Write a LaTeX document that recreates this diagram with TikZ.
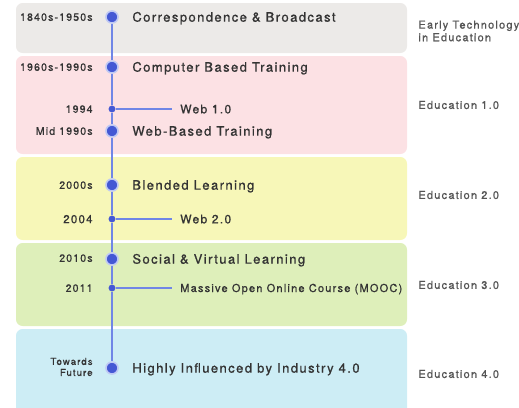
\documentclass[tikz,border=0pt]{standalone}
\usepackage{fontspec}
\setmainfont{TeX Gyre Heros}[LetterSpace=11, FakeBold=0.9]
\usetikzlibrary{positioning}
\usepackage{xcolor}

\definecolor{bandgray}{HTML}{ECEAE8}
\definecolor{bandpink}{HTML}{FCE1E4}
\definecolor{bandyellow}{HTML}{F7F7B8}
\definecolor{bandgreen}{HTML}{DEEFBA}
\definecolor{bandblue}{HTML}{CDEDF5}
\definecolor{spineblue}{HTML}{7086E6}
\definecolor{dotblue}{HTML}{4458D4}
\definecolor{txt}{HTML}{333333}
\definecolor{eratxt}{HTML}{555555}

\begin{document}
\begin{tikzpicture}[
                x=0.75pt, y=-0.75pt,
                every node/.style={text=txt, inner sep=2pt},
                band/.style={rounded corners=5pt},
                bigdot/.style={circle, fill=dotblue, draw=spineblue!45, line width=1.2pt,
                    minimum size=9pt, inner sep=0pt},
                smalldot/.style={circle, fill=dotblue, minimum size=5.2pt, inner sep=0pt},
                spine/.style={draw=spineblue, line width=1.3pt},
                event/.style={font=\fontsize{9.75}{11}\selectfont, text height=7pt, text depth=0pt},
                web/.style={anchor=west, inner xsep=6pt, font=\fontsize{9}{10}\selectfont,
                    text height=6.5pt, text depth=0pt},
                date/.style={anchor=east, font=\fontsize{7.9}{9}\selectfont,
                    text height=5.7pt, text depth=0pt},
                era/.style={anchor=west, font=\fontsize{8.25}{9.5}\selectfont, text=eratxt,
                    align=left},
            ]
            \useasboundingbox (0,0) rectangle (519,408);

            % Bands
            \fill[band, bandgray] (16,3) rectangle (407,53);
            \fill[band, bandpink] (16,56) rectangle (407,154);
            \fill[band, bandyellow] (16,157) rectangle (407,240);
            \fill[band, bandgreen] (16,243) rectangle (407,326);
            \fill[band, bandblue] (16,329) rectangle (407,420);

            % Timeline dots
            \node[bigdot] (d1) at (112,17) {};
            \node[bigdot] (d2) at (112,67) {};
            \node[smalldot] (w1) at (112,109) {};
            \node[bigdot] (d3) at (112,131) {};
            \node[bigdot] (d4) at (112,185) {};
            \node[smalldot] (w2) at (112,219) {};
            \node[bigdot] (d5) at (112,259) {};
            \node[smalldot] (w3) at (112,288) {};
            \node[bigdot] (d6) at (112,368) {};

            % Spine
            \foreach \a/\b in {d1/d2, d2/w1, w1/d3, d3/d4, d4/w2, w2/d5, d5/w3, w3/d6}
                \draw[spine] (\a) -- (\b);

            % Events
            \node[event, right=8pt of d1] (corr) {Correspondence \& Broadcast};
            \node[event, right=8pt of d2] (cbt) {Computer Based Training};
            \node[event, right=8pt of d3] (wbt) {Web-Based Training};
            \node[event, right=8pt of d4] (blend) {Blended Learning};
            \node[event, right=8pt of d5] (social) {Social \& Virtual Learning};
            \node[event, right=8pt of d6] (ind) {Highly Influenced by Industry 4.0};

            % Web milestones
            \node[web] (web1) at (172,109) {Web 1.0};
            \node[web] (web2) at (172,219) {Web 2.0};
            \node[web, font=\fontsize{8.25}{9.5}\selectfont, text height=6pt] (mooc) at (172,288)
                {Massive Open Online Course (MOOC)};
            \draw[spine] (w1) -- (web1);
            \draw[spine] (w2) -- (web2);
            \draw[spine] (w3) -- (mooc);

            % Dates
            \node[date] (t1) at (95.5,17) {1840s-1950s};
            \node[date] (t2) at (95.5,67) {1960s-1990s};
            \node[date] (t3) at (95.5,109) {1994};
            \node[date] (t4) at (95.5,131) {Mid 1990s};
            \node[date] (t5) at (95.5,185) {2000s};
            \node[date, font=\fontsize{8.6}{10}\selectfont, text height=6.2pt] (t6) at (95.5,219) {2004};
            \node[date] (t7) at (95.5,258) {2010s};
            \node[date] (t8) at (95.5,288) {2011};
            \node[date, font=\fontsize{7.2}{8.3}\selectfont, text height=, text depth=, align=right]
                (t9) at (95.5,367) {Towards\\Future};

            % Eras
            \node[era] (e0) at (415.5,31) {Early Technology\\in Education};
            \node[era] (e1) at (415.5,105) {Education 1.0};
            \node[era] (e2) at (415.5,195) {Education 2.0};
            \node[era] (e3) at (415.5,285) {Education 3.0};
            \node[era] (e4) at (415.5,374) {Education 4.0};

            \end{tikzpicture}
\end{document}
